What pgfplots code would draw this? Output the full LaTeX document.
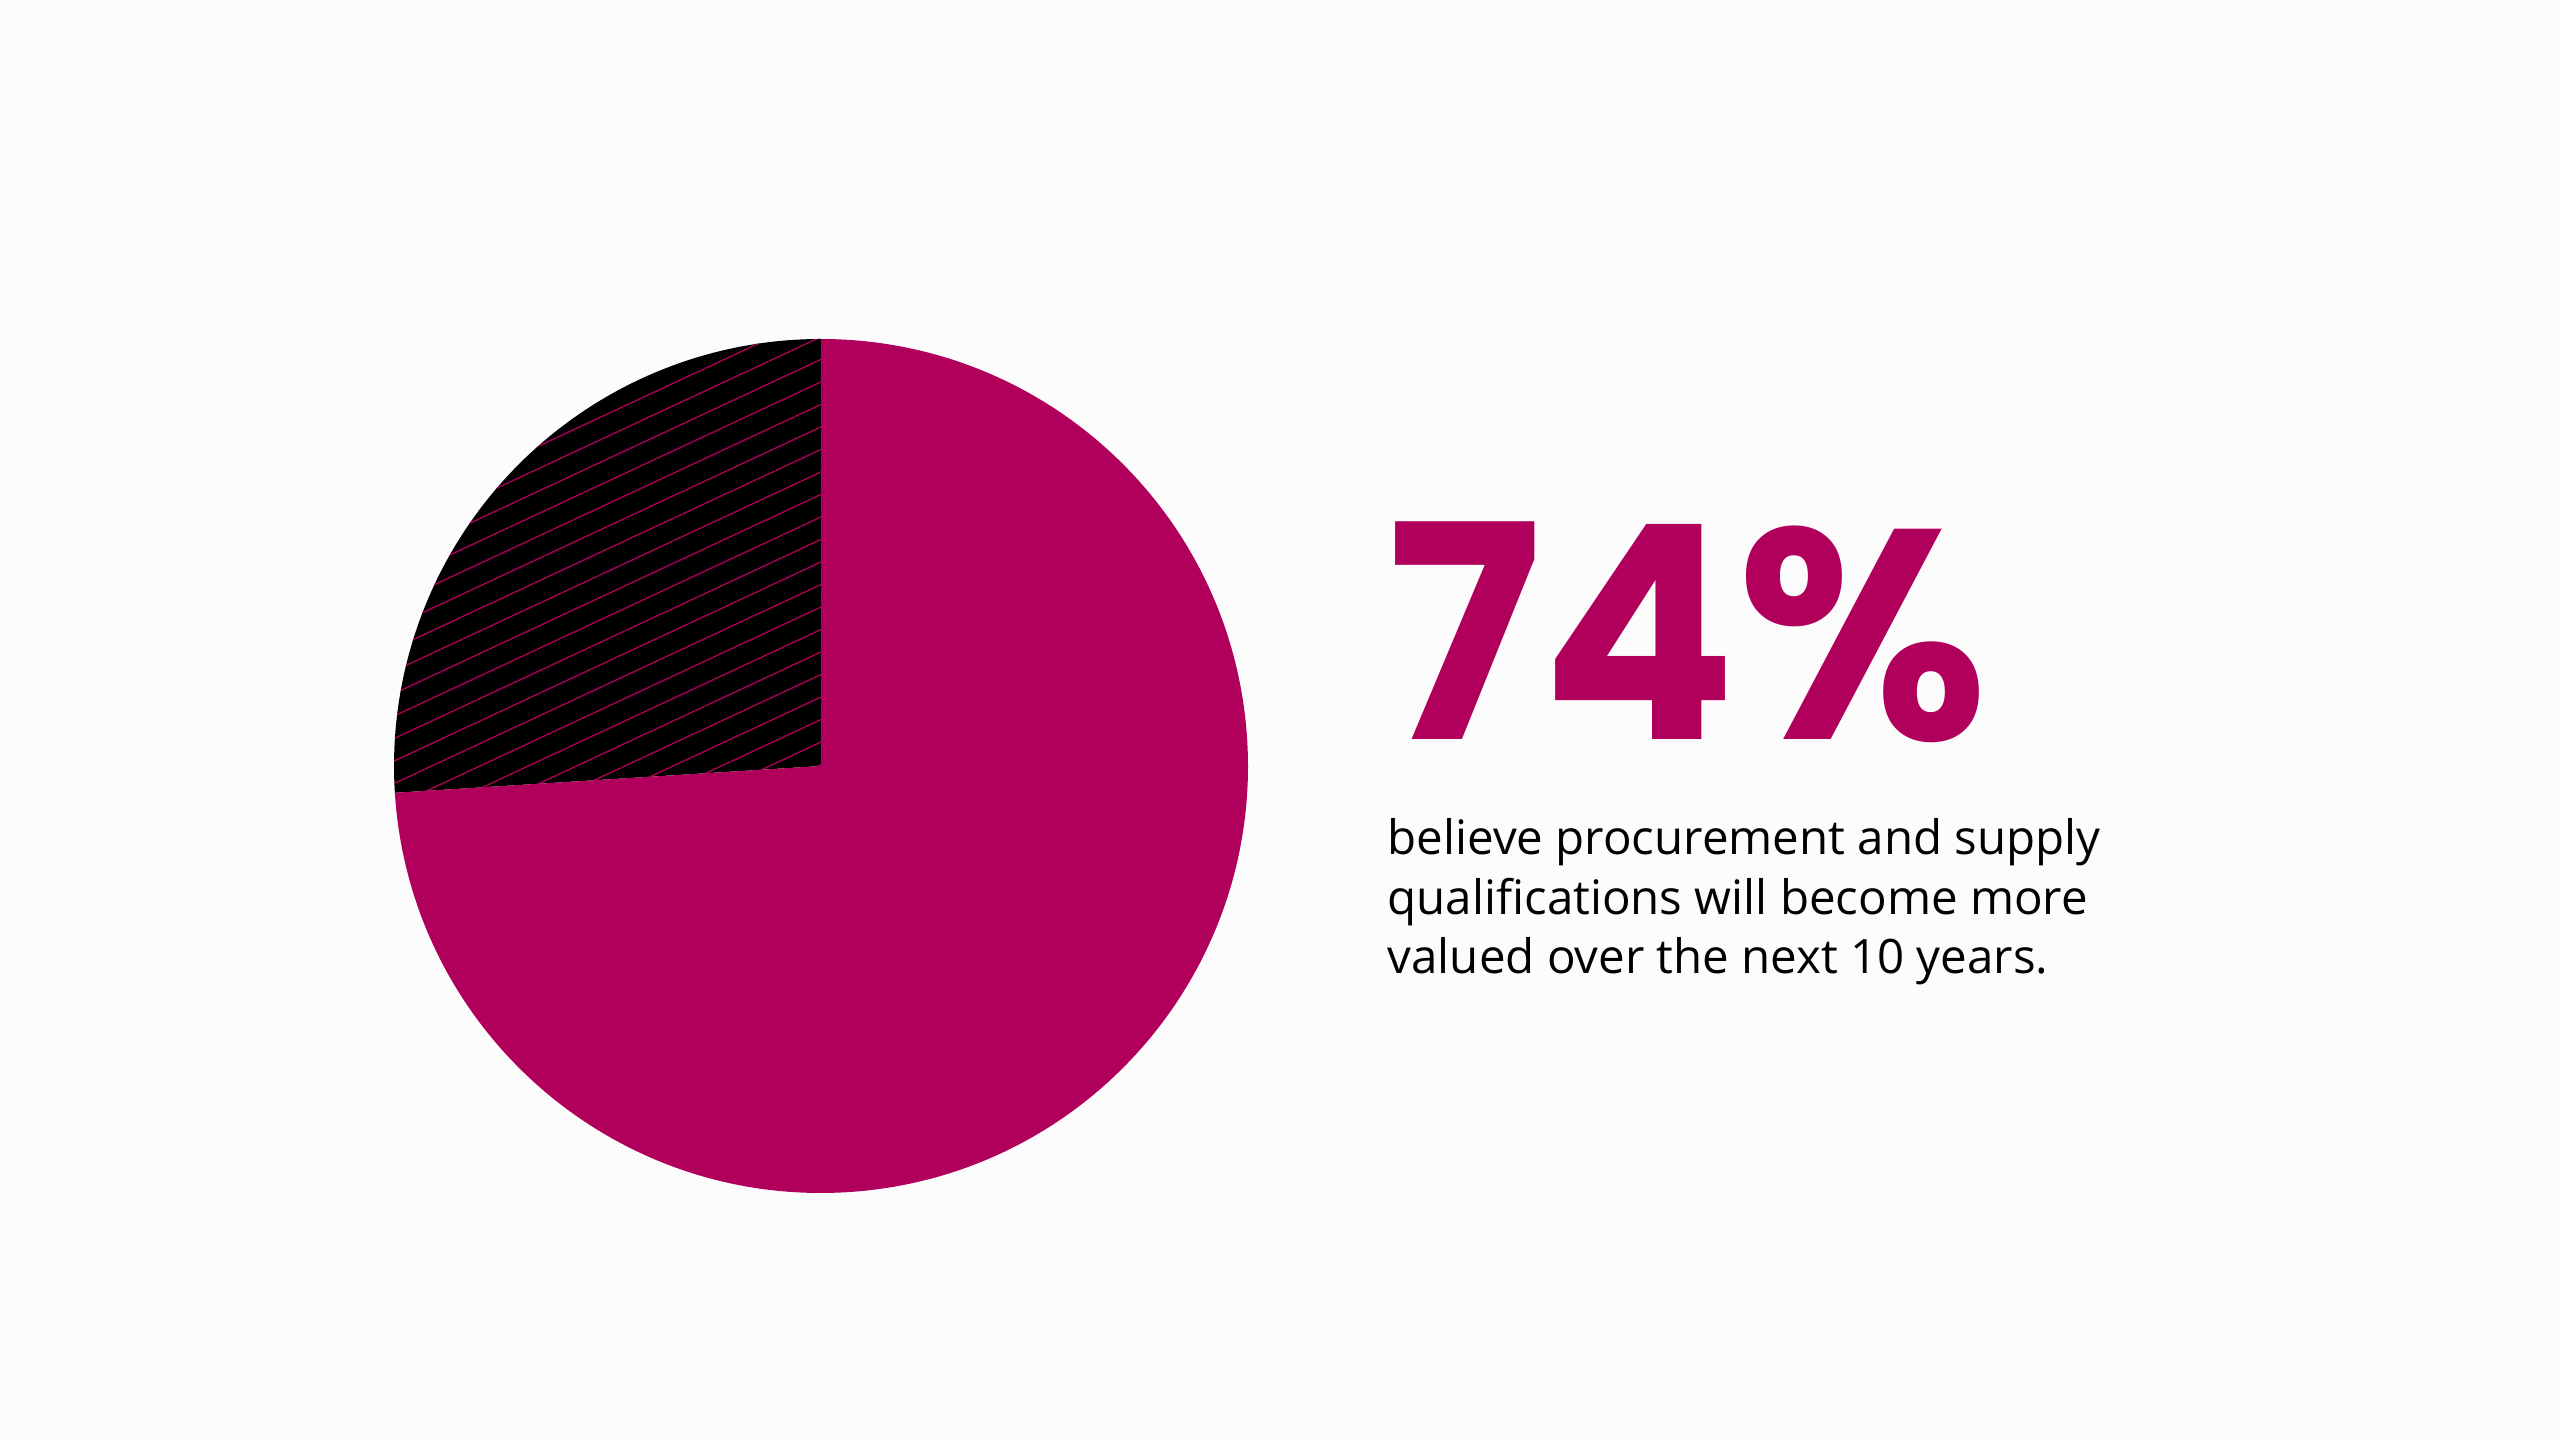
\documentclass[border=0pt]{standalone}
\usepackage{fontspec}
\setmainfont{Open Sans}
\newfontfamily\bigfont{Poppins}[UprightFont=* Bold]
\usepackage{pgfplots}
\pgfplotsset{compat=1.18}
\usepackage{pgfplotstable}
\usetikzlibrary{patterns.meta}

\definecolor{bg}{HTML}{FCFCFC}
\definecolor{mag}{HTML}{B1005C}

% share of respondents (%)
\pgfplotstableread{
label   value
yes     74
other   26
}\piedata

\begin{document}
\begin{tikzpicture}
\pgfplotstablegetelem{0}{value}\of\piedata \let\valA\pgfplotsretval
\pgfplotstablegetelem{1}{value}\of\piedata \let\valB\pgfplotsretval
\pgfmathsetmacro{\angB}{90+3.6*\valB}
\pgfmathsetmacro{\angEnd}{90+3.6*(\valA+\valB)}
\fill[bg] (0,0) rectangle (25.6cm,14.4cm);
\begin{axis}[
    at={(0,0)}, anchor=south west,
    width=25.6cm, height=14.4cm, scale only axis,
    xmin=0, xmax=2560, ymin=0, ymax=1440,
    hide axis, clip=false,
  ]
  % hatched slice
  \fill[black] (axis cs:821,674) -- ++(90:4.27cm)
    arc[start angle=90, end angle=\angB, radius=4.27cm] -- cycle;
  \fill[pattern={Lines[angle=25, distance=0.204cm, line width=0.013cm]}, pattern color=mag]
    (axis cs:821,674) -- ++(90:4.27cm)
    arc[start angle=90, end angle=\angB, radius=4.27cm] -- cycle;
  % main slice
  \fill[mag] (axis cs:821,674) -- ++(\angB:4.27cm)
    arc[start angle=\angB, end angle=\angEnd, radius=4.27cm] -- cycle;
  \node[anchor=base west, inner sep=0, text depth=0pt, text=mag, font=\bigfont\fontsize{85pt}{85pt}\selectfont]
    at (axis cs:1387,700) {\scalebox{0.965}[1]{74\%}};
  \node[anchor=north west, inner sep=0, align=left, font=\fontsize{13.5pt}{16.9pt}\selectfont]
    at (axis cs:1387,622) {believe procurement and supply\\qualifications will become more\\valued over the next 10 years.};
\end{axis}
\end{tikzpicture}
\end{document}
